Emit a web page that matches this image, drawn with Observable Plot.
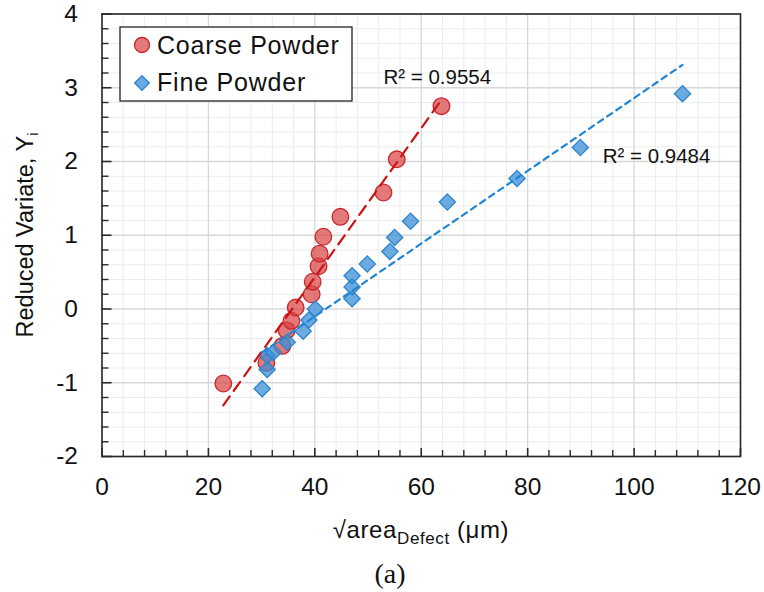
<!DOCTYPE html>
<html>
<head>
<meta charset="utf-8">
<script src="https://cdn.jsdelivr.net/npm/d3@7"></script>
<script src="https://cdn.jsdelivr.net/npm/@observablehq/plot@0.6"></script>
<style>
  body { margin: 0; background: #fff; }
  #chart svg { display: block; }
</style>
</head>
<body>
<div id="chart"></div>
<script>
// ---- data ----
const seriesNames = ["Coarse Powder", "Fine Powder"];

const coarseX = [22.8, 30.9, 33.9, 34.7, 35.6, 36.4, 39.4, 39.6, 40.7, 40.9, 41.6, 44.8, 52.9, 55.4, 63.8];
const coarseY = [-1.01, -0.73, -0.50, -0.29, -0.16, 0.02, 0.20, 0.37, 0.58, 0.75, 0.98, 1.25, 1.58, 2.03, 2.75];

const fineX = [30.1, 31.05, 31.05, 32.2, 34.8, 37.8, 38.9, 40.1, 47.0, 47.0, 47.0, 49.85, 54.1, 55.0, 58.0, 64.9, 78.0, 89.9, 109.1];
const fineY = [-1.08, -0.82, -0.63, -0.59, -0.45, -0.30, -0.15, 0.00, 0.14, 0.30, 0.45, 0.61, 0.78, 0.97, 1.19, 1.45, 1.77, 2.19, 2.92];

const r2Text = ["R² = 0.9554", "R² = 0.9484"];
const r2X = [52.9, 94.1];
const r2Y = [3.14, 2.07];

const xTicks = [0, 20, 40, 60, 80, 100, 120];
const yTicks = [-2, -1, 0, 1, 2, 3, 4];
const xMinor = d3.range(0, 121, 4).filter(d => d % 20 !== 0);
const yMinor = d3.range(-10, 21, 1).map(d => d / 5).filter(d => !Number.isInteger(d));

// ---- build tables ----
const coarse = coarseX.map((x, i) => ({x, y: coarseY[i]}));
const fine = fineX.map((x, i) => ({x, y: fineY[i]}));
const r2 = r2Text.map((t, i) => ({t, x: r2X[i], y: r2Y[i]}));

// ---- layout ----
const W = 764, H = 592;
const mL = 101.5, mR = 24, mT = 13.5, mB = 136;
const frameW = W - mL - mR, frameH = H - mT - mB;

const RED_FILL = "#d94040", RED_STROKE = "#c8262c", RED_LINE = "#cc1414";
const BLUE_FILL = "#3a8fd8", BLUE_STROKE = "#2d84cc", BLUE_LINE = "#1f86d6";
const FONT = "Arial, 'Liberation Sans', Helvetica, sans-serif";

const chart = Plot.plot({
  width: W, height: H,
  marginLeft: mL, marginRight: mR, marginTop: mT, marginBottom: mB,
  style: {fontFamily: FONT, fontSize: "24px", background: "#fff", color: "#111"},
  x: {domain: [0, 120], label: null},
  y: {domain: [-2, 4], label: null},
  marks: [
    // minor grid
    Plot.ruleX(xMinor, {stroke: "#ececec", strokeWidth: 1}),
    Plot.ruleY(yMinor, {stroke: "#ececec", strokeWidth: 1}),
    // major grid
    Plot.ruleX(xTicks, {stroke: "#d8d8d8", strokeWidth: 1.3}),
    Plot.ruleY(yTicks, {stroke: "#d8d8d8", strokeWidth: 1.3}),
    // points
    Plot.dot(coarse, {x: "x", y: "y", r: 8.3, symbol: "circle",
      fill: RED_FILL, fillOpacity: 0.7, stroke: RED_STROKE, strokeWidth: 1.3}),
    Plot.dot(fine, {x: "x", y: "y", r: 7.3, symbol: "diamond2",
      fill: BLUE_FILL, fillOpacity: 0.75, stroke: BLUE_STROKE, strokeWidth: 1.3}),
    // trend lines
    Plot.linearRegressionY(coarse, {x: "x", y: "y", ci: 0, stroke: RED_LINE,
      strokeWidth: 2.2, strokeDasharray: "11,7"}),
    Plot.linearRegressionY(fine, {x: "x", y: "y", ci: 0, stroke: BLUE_LINE,
      strokeWidth: 2.2, strokeDasharray: "6,5"}),
    // R² labels
    Plot.text(r2, {x: "x", y: "y", text: "t", textAnchor: "start", fontSize: 20.5, fill: "#111"}),
    // frame
    Plot.frame({stroke: "#2a2a2a", strokeWidth: 1.6}),
    // inward ticks
    Plot.ruleX(xTicks, {stroke: "#2a2a2a", strokeWidth: 1.6, insetTop: frameH - 8}),
    Plot.ruleX(xMinor, {stroke: "#2a2a2a", strokeWidth: 1.4, insetTop: frameH - 6}),
    Plot.ruleY(yTicks, {stroke: "#2a2a2a", strokeWidth: 1.6, insetRight: frameW - 10}),
    Plot.ruleY(yMinor, {stroke: "#2a2a2a", strokeWidth: 1.4, insetRight: frameW - 7}),
    // tick labels
    Plot.axisX(xTicks, {tickSize: 0, tickPadding: 21, fontSize: 24.5, label: null, tickFormat: d => String(d)}),
    Plot.axisY(yTicks, {tickSize: 0, tickPadding: 24, fontSize: 24.5, label: null, tickFormat: d => String(d)})
  ]
});

document.getElementById("chart").appendChild(chart);

// ---- annotations: axis titles, legend, caption ----
const svg = d3.select(chart);

// x axis title
const xt = svg.append("text")
  .attr("x", 421).attr("y", 538)
  .attr("text-anchor", "middle")
  .attr("font-family", FONT).attr("font-size", 24).attr("letter-spacing", 0.6).attr("fill", "#111");
xt.append("tspan").text("√area");
xt.append("tspan").attr("font-size", 17).attr("dy", 6).text("Defect");
xt.append("tspan").attr("dy", -6).text(" (μm)");

// y axis title
const yt = svg.append("text")
  .attr("transform", "translate(33,235) rotate(-90)")
  .attr("text-anchor", "middle")
  .attr("font-family", FONT).attr("font-size", 23.5).attr("fill", "#111");
yt.append("tspan").text("Reduced Variate, Y");
yt.append("tspan").attr("font-size", 15).attr("dy", 5).text("i");

// caption
svg.append("text")
  .attr("x", 390).attr("y", 583)
  .attr("text-anchor", "middle")
  .attr("font-family", "'Liberation Serif', 'Times New Roman', serif")
  .attr("font-size", 28).attr("fill", "#111")
  .text("(a)");

// legend
const lg = svg.append("g");
lg.append("rect").attr("x", 120).attr("y", 27).attr("width", 232).attr("height", 74)
  .attr("fill", "#fff").attr("stroke", "#222").attr("stroke-width", 1.3);
lg.append("circle").attr("cx", 142).attr("cy", 45).attr("r", 7.5)
  .attr("fill", RED_FILL).attr("fill-opacity", 0.7).attr("stroke", RED_STROKE).attr("stroke-width", 1.3);
lg.append("path").attr("transform", "translate(142,83)")
  .attr("d", d3.symbol(d3.symbolDiamond2, Math.PI * 6.6 * 6.6)())
  .attr("fill", BLUE_FILL).attr("fill-opacity", 0.75).attr("stroke", BLUE_STROKE).attr("stroke-width", 1.3);
seriesNames.forEach((name, i) => {
  lg.append("text").attr("x", 157).attr("y", i === 0 ? 54 : 91)
    .attr("text-anchor", "start")
    .attr("font-family", FONT).attr("font-size", 25).attr("letter-spacing", 0.8)
    .attr("fill", "#111").text(name);
});
</script>
</body>
</html>
